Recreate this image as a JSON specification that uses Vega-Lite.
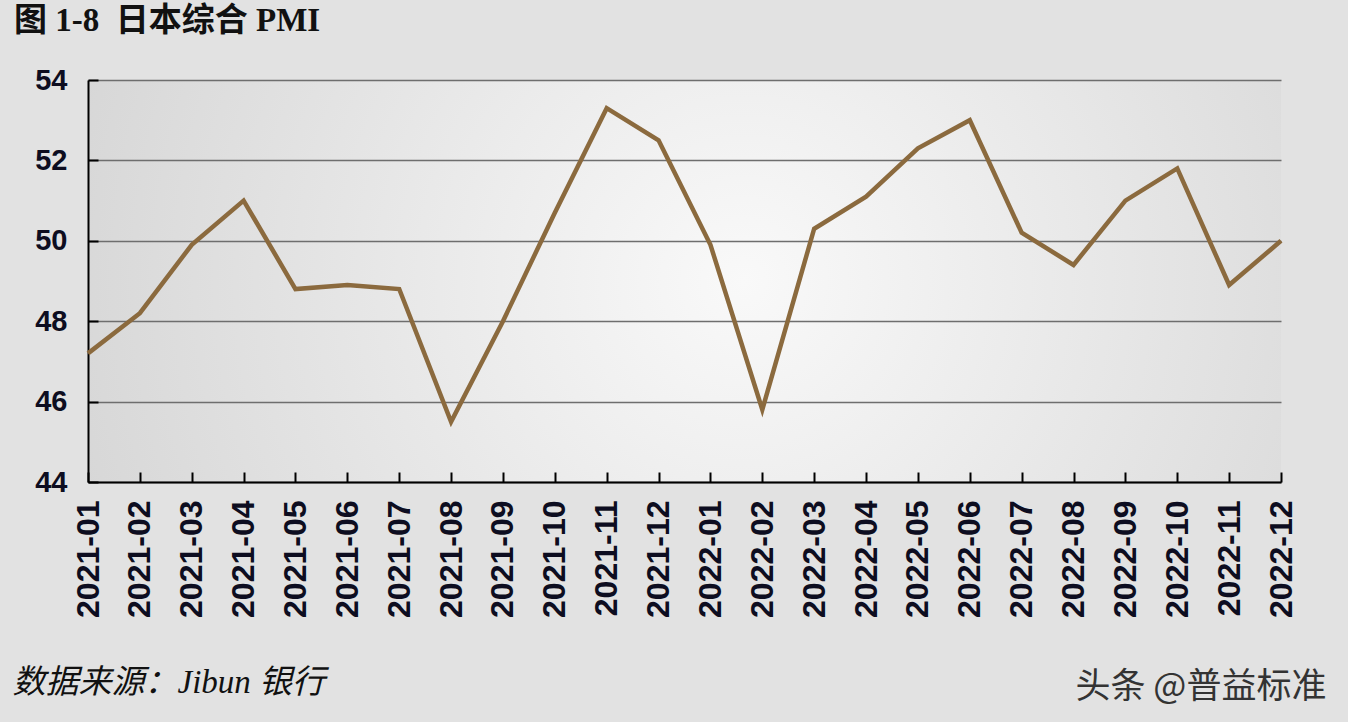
{
  "$schema": "https://vega.github.io/schema/vega-lite/v6.json",
  "width": 1193,
  "height": 402,
  "autosize": {"type": "none"},
  "padding": {"left": 88, "top": 80, "right": 67, "bottom": 240},
  "background": "#e2e2e2",
  "title": {
    "text": "图 1-8\u00a0\u00a0日本综合 PMI",
    "anchor": "start",
    "frame": "group",
    "dx": -74,
    "offset": 28,
    "font": "Liberation Serif, Noto Sans CJK SC",
    "fontSize": 33,
    "fontWeight": "bold",
    "color": "#111111"
  },
  "view": {
    "stroke": null,
    "fill": {
      "gradient": "radial",
      "x1": 0.55, "y1": 0.5, "r1": 0,
      "x2": 0.55, "y2": 0.5, "r2": 0.75,
      "stops": [
        {"offset": 0, "color": "#f9f9f9"},
        {"offset": 1, "color": "#cdcdcd"}
      ]
    }
  },
  "data": {
    "values": [
      {"month": "2021-01", "pmi": 47.2},
      {"month": "2021-02", "pmi": 48.2},
      {"month": "2021-03", "pmi": 49.9},
      {"month": "2021-04", "pmi": 51.0},
      {"month": "2021-05", "pmi": 48.8},
      {"month": "2021-06", "pmi": 48.9},
      {"month": "2021-07", "pmi": 48.8},
      {"month": "2021-08", "pmi": 45.5},
      {"month": "2021-09", "pmi": 48.0},
      {"month": "2021-10", "pmi": 50.7},
      {"month": "2021-11", "pmi": 53.3},
      {"month": "2021-12", "pmi": 52.5},
      {"month": "2022-01", "pmi": 49.9},
      {"month": "2022-02", "pmi": 45.8},
      {"month": "2022-03", "pmi": 50.3},
      {"month": "2022-04", "pmi": 51.1},
      {"month": "2022-05", "pmi": 52.3},
      {"month": "2022-06", "pmi": 53.0},
      {"month": "2022-07", "pmi": 50.2},
      {"month": "2022-08", "pmi": 49.4},
      {"month": "2022-09", "pmi": 51.0},
      {"month": "2022-10", "pmi": 51.8},
      {"month": "2022-11", "pmi": 48.9},
      {"month": "2022-12", "pmi": 50.0}
    ]
  },
  "mark": {"type": "line", "color": "#8B6A3E", "strokeWidth": 4.5},
  "encoding": {
    "x": {
      "field": "month",
      "type": "ordinal",
      "scale": {"type": "point", "padding": 0},
      "axis": {
        "labelAngle": -90,
        "labelAlign": "right",
        "labelBaseline": "middle",
        "labelFont": "Liberation Sans",
        "labelFontSize": 32,
        "labelFontWeight": "bold",
        "labelColor": "#0d0d20",
        "labelPadding": 28,
        "tickSize": -10,
        "tickColor": "#000000",
        "tickWidth": 2,
        "domainColor": "#000000",
        "domainWidth": 2,
        "grid": false,
        "title": "数据来源：Jibun 银行",
        "titleX": -76,
        "titleY": 200,
        "titleAlign": "left",
        "titleBaseline": "middle",
        "titleAngle": 0,
        "titleFont": "Liberation Serif, Noto Sans CJK SC",
        "titleFontSize": 33,
        "titleFontStyle": "italic",
        "titleFontWeight": "normal",
        "titleColor": "#111111"
      }
    },
    "y": {
      "field": "pmi",
      "type": "quantitative",
      "scale": {"domain": [44, 54], "zero": false, "nice": false},
      "axis": {
        "values": [44, 46, 48, 50, 52, 54],
        "labelFont": "Liberation Sans",
        "labelFontSize": 29,
        "labelFontWeight": "bold",
        "labelColor": "#0d0d20",
        "labelPadding": 31,
        "tickSize": -10,
        "tickColor": "#000000",
        "tickWidth": 2,
        "domainColor": "#000000",
        "domainWidth": 2,
        "grid": true,
        "gridColor": "#6e6e6e",
        "gridWidth": 1.5,
        "title": "头条 @普益标准",
        "titleX": 987,
        "titleY": 606,
        "titleAlign": "left",
        "titleBaseline": "middle",
        "titleAngle": 0,
        "titleFont": "Noto Sans CJK SC",
        "titleFontSize": 35,
        "titleFontWeight": "normal",
        "titleColor": "#333333"
      }
    }
  }
}
